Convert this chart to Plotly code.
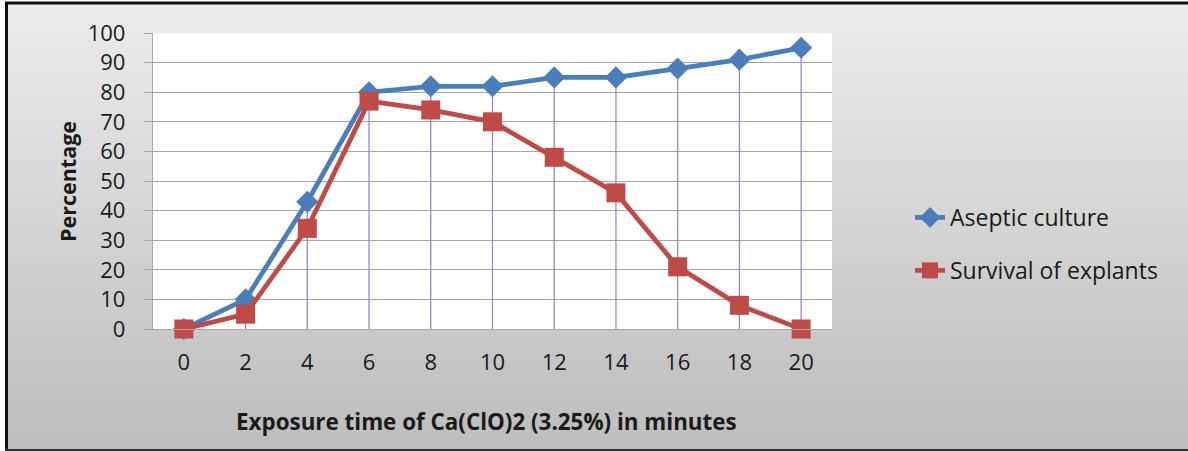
import plotly.graph_objects as go

# Exposure time (minutes) and response percentages
exposure_min = [0, 2, 4, 6, 8, 10, 12, 14, 16, 18, 20]
aseptic_culture = [0, 10, 43, 80, 82, 82, 85, 85, 88, 91, 95]
explant_survival = [0, 5, 34, 77, 74, 70, 58, 46, 21, 8, 0]
y_ticks = [0, 10, 20, 30, 40, 50, 60, 70, 80, 90, 100]

FIG_W, FIG_H = 1188, 451
PL, PR, PT, PB = 153, 832, 33, 329  # plot area in pixels
PW, PH = PR - PL, PB - PT


def px(x):
    return (x - PL) / PW


def py(y):
    return (PB - y) / PH


FONT = "Open Sans"
GRID = "#a6a6a6"
TEXT = "#1a1a1a"

fig = go.Figure()

# drop lines from the highest point of each category down to the axis
drop_x, drop_y = [], []
for x, a, s in zip(exposure_min, aseptic_culture, explant_survival):
    drop_x += [x, x, None]
    drop_y += [0, max(a, s), None]
fig.add_trace(go.Scatter(
    x=drop_x, y=drop_y, mode="lines",
    line=dict(color="#9b86c2", width=1.3),
    hoverinfo="skip", showlegend=False,
))

fig.add_trace(go.Scatter(
    x=exposure_min, y=aseptic_culture, name="Aseptic culture",
    mode="lines+markers", legendgroup="a", cliponaxis=False,
    line=dict(color="#4a7ebb", width=4.8),
    marker=dict(symbol="diamond", size=17, color="#4a7ebb"),
))
fig.add_trace(go.Scatter(
    x=exposure_min, y=explant_survival, name="Survival of explants",
    mode="lines+markers", legendgroup="b", cliponaxis=False,
    line=dict(color="#be4b48", width=4.8),
    marker=dict(symbol="square", size=19, color="#be4b48"),
))

# chart-area background: vertical grey gradient
shapes = []
n_bands = 90
top_c, bot_c = 236, 188
y0_px, y1_px = 4, 450
for i in range(n_bands):
    ya = y0_px + (y1_px - y0_px) * i / n_bands
    yb = y0_px + (y1_px - y0_px) * (i + 1) / n_bands + 0.6
    c = round(top_c + (bot_c - top_c) * (i + 0.5) / n_bands)
    shapes.append(dict(
        type="rect", xref="paper", yref="paper", layer="below",
        x0=px(7), x1=px(FIG_W + 2), y0=py(ya), y1=py(yb),
        fillcolor=f"rgb({c},{c},{c})", line=dict(width=0),
    ))
# white plot area
shapes.append(dict(
    type="rect", xref="paper", yref="paper", layer="below",
    x0=0, x1=1, y0=0, y1=1, fillcolor="white", line=dict(width=0),
))
# chart border
shapes += [
    dict(type="line", xref="paper", yref="paper", x0=px(5), x1=px(FIG_W + 2),
         y0=py(3), y1=py(3), line=dict(color="#111111", width=3)),
    dict(type="line", xref="paper", yref="paper", x0=px(6.5), x1=px(6.5),
         y0=py(2), y1=py(451), line=dict(color="#111111", width=3)),
    dict(type="line", xref="paper", yref="paper", x0=px(5), x1=px(FIG_W + 2),
         y0=py(450), y1=py(450), line=dict(color="#333333", width=2)),
]

annotations = [
    dict(text="<b>Exposure time of Ca(ClO)2 (3.25%) in minutes</b>",
         xref="paper", yref="paper", x=px(486), y=py(421),
         xanchor="center", yanchor="middle", showarrow=False,
         font=dict(family=FONT, size=22.4, color=TEXT)),
    dict(text="<b>Percentage</b>", textangle=-90,
         xref="paper", yref="paper", x=px(67), y=py(182),
         xanchor="center", yanchor="middle", showarrow=False,
         font=dict(family=FONT, size=21.5, color=TEXT)),
]

fig.update_layout(
    width=FIG_W, height=FIG_H,
    margin=dict(l=PL, r=FIG_W - PR, t=PT, b=FIG_H - PB, pad=0),
    paper_bgcolor="white", plot_bgcolor="white",
    shapes=shapes, annotations=annotations,
    showlegend=True,
    legend=dict(
        x=px(910), y=py(196), xanchor="left", yanchor="top",
        bgcolor="rgba(0,0,0,0)", tracegroupgap=20,
        font=dict(family=FONT, size=23, color=TEXT),
    ),
    xaxis=dict(
        range=[-1, 21], tickvals=exposure_min,
        ticktext=[str(v) for v in exposure_min],
        showgrid=False, zeroline=False,
        showline=True, linecolor=GRID, linewidth=1.3,
        ticks="", ticklabelstandoff=13,
        tickfont=dict(family=FONT, size=22, color=TEXT),
        fixedrange=True,
    ),
    yaxis=dict(
        range=[0, 100], tickvals=y_ticks,
        showgrid=True, gridcolor=GRID, gridwidth=1.3,
        zeroline=False,
        showline=True, linecolor=GRID, linewidth=1.3,
        ticks="outside", ticklen=8, tickcolor=GRID, tickwidth=1.3,
        ticklabelstandoff=14,
        tickfont=dict(family=FONT, size=22, color=TEXT),
        fixedrange=True,
    ),
)

fig.write_html("out.html")
